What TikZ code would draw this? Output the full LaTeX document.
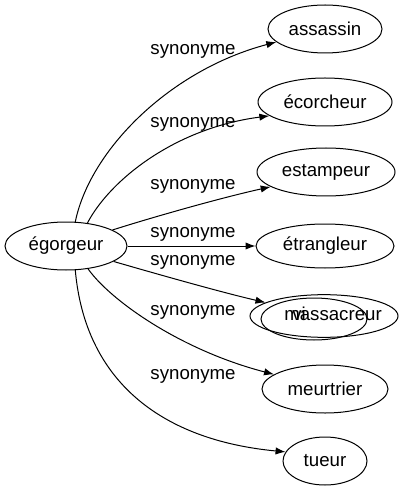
\documentclass[tikz,border=0pt]{standalone}
\usepackage{fontspec}
\setmainfont{Liberation Sans}
\usetikzlibrary{shapes.geometric,arrows.meta}
\tikzset{
  nd/.style={draw, ellipse, inner sep=0pt, font=\fontsize{14}{16}\selectfont, line width=0.75pt},
  lbl/.style={font=\fontsize{14}{16}\selectfont, inner sep=0pt},
  edge/.style={draw, line width=0.75pt, -{Latex[length=7.5pt,width=5.5pt]}}
}
\begin{document}
\begin{tikzpicture}[x=0.75pt,y=-0.75pt]
\useasboundingbox (0,0) rectangle (403,491);
\node[nd, minimum width=91.5pt, minimum height=36pt] (eg) at (66,246) {égorgeur};
\node[nd, minimum width=85.5pt, minimum height=36pt] (ass) at (325,29) {assassin};
\node[nd, minimum width=100.5pt, minimum height=36pt] (eco) at (325,102) {écorcheur};
\node[nd, minimum width=103.5pt, minimum height=36pt] (est) at (326,172) {estampeur};
\node[nd, minimum width=103.5pt, minimum height=33pt] (etr) at (325,246) {étrangleur};
\node[nd, minimum width=79.5pt, minimum height=31.5pt] (mas2) at (314,319) {};
\node[nd, minimum width=111pt, minimum height=32pt] (mas) at (324,316) {\hspace*{6.75pt}massacreur\hspace*{-6.75pt}};
\node[lbl, anchor=base] (vi) at ([xshift=-18.75pt]mas.base) {vi};
\node[nd, minimum width=94.5pt, minimum height=36pt] (meu) at (325,389) {meurtrier};
\node[nd, minimum width=63pt, minimum height=36pt] (tue) at (325,461) {tueur};

\path[edge] (eg.69.4) .. controls (90,150) and (170,70) .. (ass.195.1);
\path[edge] (eg.47.5) .. controls (110,180) and (175,128) .. (eco.194.7);
\path[edge] (eg.19.9) .. controls (150,218) and (220,198) .. (est.195.2);
\path[edge] (eg.east) -- (etr.west);
\path[edge] (eg.-18.8) .. controls (150,272) and (220,292) .. (mas.167.6);
\path[edge] (eg.-46.3) .. controls (110,300) and (180,350) .. (meu.164.9);
\path[edge] (eg.-69.4) .. controls (85,380) and (160,440) .. (tue.167.3);

\node[lbl] (l1) at (193,51) {synonyme};
\node[lbl] (l2) at (193,124) {synonyme};
\node[lbl] (l3) at (193,186) {synonyme};
\node[lbl] (l4) at (193,234) {synonyme};
\node[lbl] (l5) at (193,262) {synonyme};
\node[lbl] (l6) at (193,312) {synonyme};
\node[lbl] (l7) at (193,376) {synonyme};
\end{tikzpicture}
\end{document}
